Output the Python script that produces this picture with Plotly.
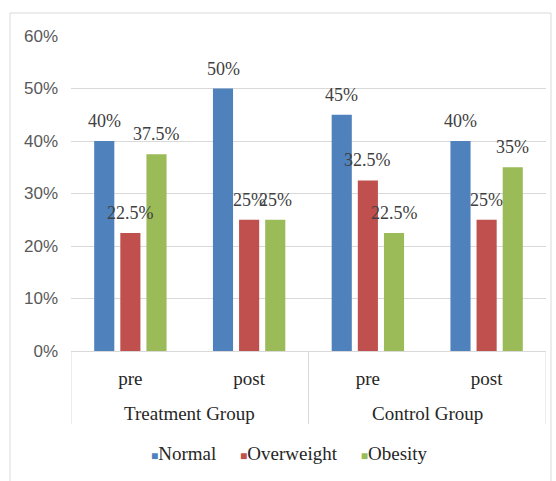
import plotly.graph_objects as go

# Study groups and measurement times (two-level category axis)
groups = ["Treatment Group", "Treatment Group", "Control Group", "Control Group"]
times = ["pre", "post", "pre", "post"]

# Share of participants per BMI class, in percent
normal = [40, 50, 45, 40]
overweight = [22.5, 25, 32.5, 25]
obesity = [37.5, 25, 22.5, 35]

series_names = ["Normal", "Overweight", "Obesity"]
series_values = [normal, overweight, obesity]
series_colors = ["#4F81BD", "#C0504D", "#9BBB59"]

y_ticks = [0, 10, 20, 30, 40, 50, 60]
y_tick_labels = [f"{v}%" for v in y_ticks]

SERIF = "Liberation Serif"
SANS = "Liberation Sans"
TEXT = "#404040"
GRID = "#D9D9D9"
BAR_GAP = 0.34
GROUP_GAP = 0.23

positions = list(range(len(times)))
n_series = len(series_names)
slot = (1 - BAR_GAP) / n_series

fig = go.Figure()
annotations = []
for k, (name, vals, color) in enumerate(zip(series_names, series_values, series_colors)):
    fig.add_trace(go.Bar(
        name=name,
        x=positions,
        y=vals,
        marker=dict(color=color, line=dict(width=0)),
        showlegend=False,
        hovertemplate=name + ": %{y}%<extra></extra>",
    ))
    # value labels floating above each bar
    offset = (k - (n_series - 1) / 2) * slot
    for p, v in zip(positions, vals):
        annotations.append(dict(
            text=f"{v:g}%",
            x=p + offset, y=v,
            xref="x", yref="y",
            yshift=20,
            xanchor="center", yanchor="middle",
            showarrow=False,
            font=dict(family=SERIF, size=18, color=TEXT),
        ))

# Second-level labels centred under their group, with dividers at group edges
group_order = list(dict.fromkeys(groups))
dividers = [positions[0] - 0.5]
for g in group_order:
    idx = [p for p, gg in zip(positions, groups) if gg == g]
    annotations.append(dict(
        text=g,
        x=sum(idx) / len(idx), y=0,
        xref="x", yref="paper",
        yshift=-62,
        xanchor="center", yanchor="middle",
        showarrow=False,
        font=dict(family=SERIF, size=19, color="#262626"),
    ))
    dividers.append(max(idx) + 0.5)

shapes = [dict(
    type="line",
    xref="x", yref="paper",
    ysizemode="pixel", yanchor=0,
    x0=d, x1=d, y0=0, y1=-73,
    line=dict(color=GRID, width=1),
) for d in dividers]

# Legend row: coloured squares followed by series names
gap = "\u00a0" * 5
legend_text = gap.join(
    f"<span style='color:{c};font-size:12px'>\u25a0</span>{n}"
    for n, c in zip(series_names, series_colors)
)
annotations.append(dict(
    text=legend_text,
    xref="paper", yref="paper",
    x=0.461, y=0,
    yshift=-102,
    xanchor="center", yanchor="middle",
    showarrow=False,
    font=dict(family=SERIF, size=19, color="#262626"),
))

# Light frame around the whole chart
shapes.append(dict(
    type="rect",
    xref="paper", yref="paper",
    xsizemode="pixel", ysizemode="pixel",
    xanchor=0, yanchor=1,
    x0=-61, x1=480, y0=23, y1=-460,
    line=dict(color=GRID, width=1),
    fillcolor="rgba(0,0,0,0)",
    layer="below",
))

fig.update_layout(
    width=556,
    height=481,
    margin=dict(l=71, r=10, t=36, b=130),
    paper_bgcolor="white",
    plot_bgcolor="white",
    barmode="group",
    bargap=BAR_GAP,
    bargroupgap=GROUP_GAP,
    font=dict(family=SERIF, size=18, color=TEXT),
    xaxis=dict(
        range=[positions[0] - 0.5, positions[-1] + 0.5],
        tickvals=positions,
        ticktext=times,
        showline=True,
        linecolor=GRID,
        linewidth=1,
        showgrid=False,
        zeroline=False,
        ticks="",
        tickfont=dict(family=SERIF, size=19, color="#262626"),
        ticklabelstandoff=10,
    ),
    yaxis=dict(
        range=[0, 60],
        tickvals=y_ticks,
        ticktext=y_tick_labels,
        showgrid=True,
        gridcolor=GRID,
        gridwidth=1,
        zeroline=False,
        showline=False,
        ticks="",
        tickfont=dict(family=SANS, size=17, color="#595959"),
        ticklabelstandoff=12,
    ),
    annotations=annotations,
    shapes=shapes,
)

fig.write_html("out.html")
